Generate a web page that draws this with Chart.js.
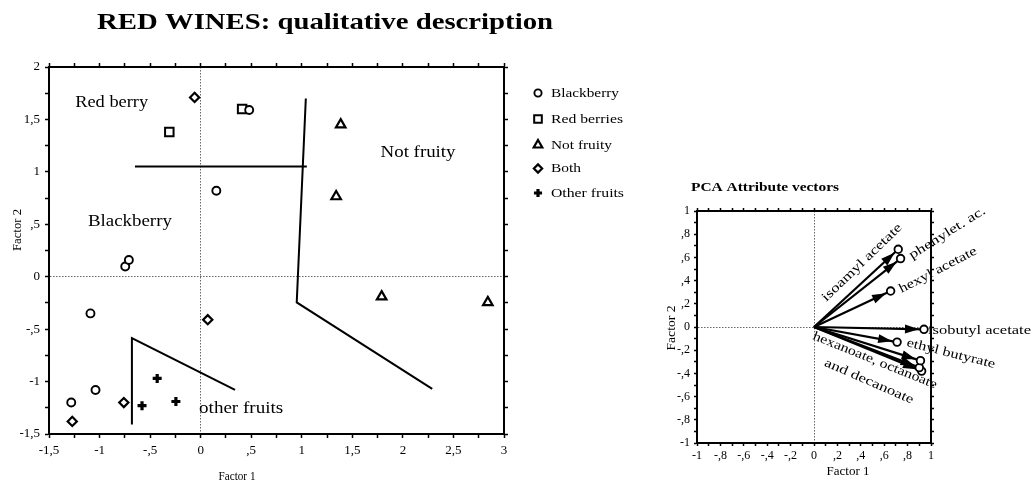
<!DOCTYPE html>
<html><head><meta charset="utf-8">
<script src="https://cdn.jsdelivr.net/npm/chart.js@4.4.1/dist/chart.umd.min.js"></script>
<style>
html,body{margin:0;padding:0;background:#fff;}
#wrap{position:relative;width:1033px;height:484px;overflow:hidden;}
canvas{position:absolute;left:0;top:0;}
</style></head><body>
<div id="wrap"><canvas id="c1" width="1033" height="484"></canvas><canvas id="c2" width="1033" height="484"></canvas></div>
<script>
// ---------- DATA: main chart ----------
const mainXTicks = [-1.5,-1,-0.5,0,0.5,1,1.5,2,2.5,3];
const mainXTickLabels = ['-1,5','-1','-,5','0',',5','1','1,5','2','2,5','3'];
const mainYTicks = [-1.5,-1,-0.5,0,0.5,1,1.5,2];
const mainYTickLabels = ['-1,5','-1','-,5','0',',5','1','1,5','2'];

const seriesNames = ['Blackberry','Red berries','Not fruity','Both','Other fruits'];
const blackberryX = [0.48, 0.155, -0.746, -0.71, -1.09, -1.04, -1.28];
const blackberryY = [1.59, 0.82, 0.098, 0.16, -0.35, -1.08, -1.20];
const redBerriesX = [-0.31, 0.41];
const redBerriesY = [1.38, 1.60];
const notFruityX = [1.385, 1.34, 1.79, 2.84];
const notFruityY = [1.45, 0.765, -0.19, -0.245];
const bothX = [-0.06, 0.07, -0.76, -1.27];
const bothY = [1.71, -0.41, -1.20, -1.38];
const otherFruitsX = [-0.58, -0.43, -0.245];
const otherFruitsY = [-1.23, -0.97, -1.19];

// boundary lines
const redBerryBoundX = [-0.65, 1.05];
const redBerryBoundY = [1.05, 1.05];
const notFruityBoundX = [1.04, 0.95, 2.29];
const notFruityBoundY = [1.70, -0.245, -1.07];
const otherFruitsBoundX = [-0.68, -0.68, 0.34];
const otherFruitsBoundY = [-1.41, -0.585, -1.08];

// region labels (data coordinates)
const regionNames = ['Red berry','Blackberry','Not fruity','other fruits'];
const regionX = [-0.88, -0.70, 2.15, 0.40];
const regionY = [1.66, 0.52, 1.18, -1.26];

// ---------- DATA: PCA chart ----------
const pcaTicks = [-1,-0.8,-0.6,-0.4,-0.2,0,0.2,0.4,0.6,0.8,1];
const pcaTickLabels = ['-1','-,8','-,6','-,4','-,2','0',',2',',4',',6',',8','1'];
const vectorNames = ['isoamyl acetate','phenylethyl acetate','hexyl acetate','isobutyl acetate','ethyl butyrate','ethyl hexanoate','ethyl octanoate','ethyl decanoate'];
const vectorX = [0.72, 0.74, 0.655, 0.94, 0.71, 0.91, 0.90, 0.92];
const vectorY = [0.67, 0.59, 0.31, -0.02, -0.13, -0.29, -0.35, -0.38];
const vectorLabels = ['isoamyl acetate','phenylet. ac.','hexyl acetate','isobutyl acetate','ethyl butyrate','hexanoate, octanoate','and decanoate'];
const vectorLabelX = [0.411, 1.14, 1.06, 0.974, 1.17, 0.52, 0.47];
const vectorLabelY = [0.555, 0.81, 0.49, -0.03, -0.23, -0.29, -0.47];
const vectorLabelAngle = [-44, -32, -27.5, 0, 14, 22, 23.5];

// ---------- helpers ----------
const SERIF = '"Liberation Serif","Times New Roman",serif';
function zip(xs, ys){ return xs.map((x,i)=>({x:x,y:ys[i]})); }
function withMinor(majors){
  const out = majors.slice();
  for (let i=0;i<majors.length-1;i++) out.push((majors[i]+majors[i+1])/2);
  return out.sort((a,b)=>a-b);
}
function labelFor(majors, labels){
  return function(v){
    for (let i=0;i<majors.length;i++) if (Math.abs(majors[i]-v)<1e-9) return labels[i];
    return '';
  };
}
function setTicks(majors){ return function(scale){ scale.ticks = withMinor(majors).map(v=>({value:v})); }; }
function fixW(w){ return function(s){ s.width = w; }; }
function fixH(h){ return function(s){ s.height = h; }; }
function zeroGrid(ctx){ return (ctx.tick && Math.abs(ctx.tick.value)<1e-9) ? '#666' : 'rgba(0,0,0,0)'; }
function drawText(ctx, text, x, y, font, width, align, baseline, angle){
  ctx.save();
  ctx.font = font;
  const w = ctx.measureText(text).width;
  const s = width ? width / w : 1;
  ctx.translate(x, y);
  if (angle) ctx.rotate(angle*Math.PI/180);
  ctx.scale(s, 1);
  ctx.fillStyle = '#000';
  ctx.textAlign = align || 'center';
  ctx.textBaseline = baseline || 'middle';
  ctx.fillText(text, 0, 0);
  ctx.restore();
}

// ---------- main chart ----------
const pointStyles = [
  {pointStyle:'circle', pointRadius:4, pointBorderWidth:1.9},
  {pointStyle:'rect', pointRadius:6, pointBorderWidth:2},
  {pointStyle:'triangle', pointRadius:5.5, pointBorderWidth:2.2},
  {pointStyle:'rectRot', pointRadius:4.6, pointBorderWidth:2.2},
  {pointStyle:'cross', pointRadius:4.5, pointBorderWidth:3.2}
];
const seriesData = [zip(blackberryX,blackberryY), zip(redBerriesX,redBerriesY), zip(notFruityX,notFruityY), zip(bothX,bothY), zip(otherFruitsX,otherFruitsY)];

const mainDatasets = seriesNames.map((n,i)=>Object.assign({
  label:n, data:seriesData[i], showLine:false,
  backgroundColor:'#fff', borderColor:'#000',
  pointBackgroundColor:'#fff', pointBorderColor:'#000', legendItem:true
}, pointStyles[i]));
[[redBerryBoundX,redBerryBoundY],[notFruityBoundX,notFruityBoundY],[otherFruitsBoundX,otherFruitsBoundY]].forEach(b=>{
  mainDatasets.push({label:'boundary', data:zip(b[0],b[1]), showLine:true, borderColor:'#000', borderWidth:2, pointRadius:0, fill:false, tension:0});
});

const mainAnnot = {
  id:'mainAnnot',
  afterDraw(chart){
    const ctx = chart.ctx, xs = chart.scales.x, ys = chart.scales.y;
    // title
    drawText(ctx, 'RED WINES: qualitative description', 97, 29, 'bold 24px '+SERIF, 456, 'left', 'alphabetic');
    // region labels
    const regionW = [73, 84, 75, 84];
    regionNames.forEach((t,i)=>drawText(ctx, t, xs.getPixelForValue(regionX[i]), ys.getPixelForValue(regionY[i]), '16px '+SERIF, regionW[i], 'center', 'middle'));
    // axis titles
    drawText(ctx, 'Factor 1', 237, 477, '13px '+SERIF, 37, 'center', 'middle');
    drawText(ctx, 'Factor 2', 18, 230, '13px '+SERIF, 42, 'center', 'middle', -90);
    // legend
    const rowsY = [93, 119, 145, 168.5, 193];
    const textW = [68, 72, 61, 30, 73];
    const items = chart.data.datasets.filter(d=>d.legendItem);
    items.forEach((d,i)=>{
      ctx.save();
      ctx.fillStyle = '#fff'; ctx.strokeStyle = '#000';
      ctx.lineWidth = d.pointBorderWidth;
      Chart.helpers.drawPoint(ctx, {pointStyle:d.pointStyle, radius:d.pointRadius*0.9, rotation:0, borderWidth:d.pointBorderWidth}, 538, rowsY[i]);
      ctx.restore();
      drawText(ctx, d.label, 551, rowsY[i]+0.5, '13px '+SERIF, textW[i], 'left', 'middle');
    });
  }
};

new Chart(document.getElementById('c1'), {
  type:'scatter',
  data:{datasets:mainDatasets},
  plugins:[mainAnnot],
  options:{
    responsive:false, animation:false, events:[],
    layout:{padding:{left:0, right:519, top:57, bottom:10}},
    plugins:{legend:{display:false}, tooltip:{enabled:false}, title:{display:false}},
    scales:{
      x:{type:'linear', position:'bottom', min:-1.5, max:3,
        afterBuildTicks:setTicks(mainXTicks), afterFit:fixH(40),
        ticks:{callback:labelFor(mainXTicks,mainXTickLabels), autoSkip:false, maxRotation:0, padding:5, color:'#000', font:{family:SERIF, size:13}},
        grid:{color:zeroGrid, lineWidth:1, tickColor:'#000', tickLength:4, tickWidth:1.5, drawOnChartArea:true},
        border:{display:true, color:'#000', width:2, dash:[1.5,1.5]}},
      y:{type:'linear', position:'left', min:-1.5, max:2,
        afterBuildTicks:setTicks(mainYTicks), afterFit:fixW(49),
        ticks:{callback:labelFor(mainYTicks,mainYTickLabels), autoSkip:false, padding:5, color:'#000', font:{family:SERIF, size:13}},
        grid:{color:zeroGrid, lineWidth:1, tickColor:'#000', tickLength:4, tickWidth:1.5, drawOnChartArea:true},
        border:{display:true, color:'#000', width:2, dash:[1.5,1.5]}},
      xTop:{type:'linear', position:'top', min:-1.5, max:3,
        afterBuildTicks:setTicks(mainXTicks), afterFit:fixH(10),
        ticks:{display:false},
        grid:{drawOnChartArea:false, tickColor:'#000', tickLength:4, tickWidth:1.5},
        border:{display:true, color:'#000', width:2}},
      yRight:{type:'linear', position:'right', min:-1.5, max:2,
        afterBuildTicks:setTicks(mainYTicks), afterFit:fixW(10),
        ticks:{display:false},
        grid:{drawOnChartArea:false, tickColor:'#000', tickLength:4, tickWidth:1.5},
        border:{display:true, color:'#000', width:2}}
    }
  }
});

// ---------- PCA chart ----------
const vecDatasets = vectorNames.map((n,i)=>({
  label:n, isVector:true,
  data:[{x:0,y:0},{x:vectorX[i],y:vectorY[i]}],
  showLine:true, borderColor:'#000', borderWidth:2.2,
  pointRadius:[0,3.8], pointStyle:'circle', pointBackgroundColor:'#fff', pointBorderColor:'#000', pointBorderWidth:1.8,
  tension:0, clip:false
}));

const arrowPlugin = {
  id:'arrows',
  beforeDatasetsDraw(chart){
    const ctx = chart.ctx;
    chart.data.datasets.forEach((ds,i)=>{
      if (!ds.isVector) return;
      const pts = chart.getDatasetMeta(i).data;
      const a = pts[0], b = pts[1];
      const dx = b.x-a.x, dy = b.y-a.y, L = Math.hypot(dx,dy);
      const ux = dx/L, uy = dy/L;
      const tx = b.x-ux*5, ty = b.y-uy*5;
      const bx = tx-ux*14, by = ty-uy*14;
      ctx.save(); ctx.fillStyle='#000'; ctx.beginPath();
      ctx.moveTo(tx,ty); ctx.lineTo(bx-uy*4.5, by+ux*4.5); ctx.lineTo(bx+uy*4.5, by-ux*4.5); ctx.closePath(); ctx.fill(); ctx.restore();
    });
  }
};
const pcaAnnot = {
  id:'pcaAnnot',
  afterDraw(chart){
    const ctx = chart.ctx, xs = chart.scales.x, ys = chart.scales.y;
    drawText(ctx, 'PCA Attribute vectors', 691, 191, 'bold 12px '+SERIF, 148, 'left', 'alphabetic');
    drawText(ctx, 'Factor 1', 848, 472, '12px '+SERIF, 43, 'center', 'middle');
    drawText(ctx, 'Factor 2', 672, 328, '12px '+SERIF, 45, 'center', 'middle', -90);
    const lw = [106, 88, 86, 103, 91, 133, 96];
    vectorLabels.forEach((t,i)=>{
      const align = i===3 ? 'left' : 'center';
      drawText(ctx, t, xs.getPixelForValue(vectorLabelX[i]), ys.getPixelForValue(vectorLabelY[i]), '13px '+SERIF, lw[i], align, 'middle', vectorLabelAngle[i]);
    });
  }
};

new Chart(document.getElementById('c2'), {
  type:'scatter',
  data:{datasets:vecDatasets},
  plugins:[arrowPlugin, pcaAnnot],
  options:{
    responsive:false, animation:false, events:[],
    layout:{padding:{left:667, right:96, top:205, bottom:11}},
    plugins:{legend:{display:false}, tooltip:{enabled:false}, title:{display:false}},
    scales:{
      x:{type:'linear', position:'bottom', min:-1, max:1,
        afterBuildTicks:setTicks(pcaTicks), afterFit:fixH(30),
        ticks:{callback:labelFor(pcaTicks,pcaTickLabels), autoSkip:false, maxRotation:0, padding:3, color:'#000', font:{family:SERIF, size:12}},
        grid:{color:zeroGrid, lineWidth:1, tickColor:'#000', tickLength:3, tickWidth:1.5, drawOnChartArea:true},
        border:{display:true, color:'#000', width:2, dash:[1.5,1.5]}},
      y:{type:'linear', position:'left', min:-1, max:1,
        afterBuildTicks:setTicks(pcaTicks), afterFit:fixW(30),
        ticks:{callback:labelFor(pcaTicks,pcaTickLabels), autoSkip:false, padding:4, color:'#000', font:{family:SERIF, size:12}},
        grid:{color:zeroGrid, lineWidth:1, tickColor:'#000', tickLength:3, tickWidth:1.5, drawOnChartArea:true},
        border:{display:true, color:'#000', width:2, dash:[1.5,1.5]}},
      xTop:{type:'linear', position:'top', min:-1, max:1,
        afterBuildTicks:setTicks(pcaTicks), afterFit:fixH(6),
        ticks:{display:false},
        grid:{drawOnChartArea:false, tickColor:'#000', tickLength:3, tickWidth:1.5},
        border:{display:true, color:'#000', width:2}},
      yRight:{type:'linear', position:'right', min:-1, max:1,
        afterBuildTicks:setTicks(pcaTicks), afterFit:fixW(6),
        ticks:{display:false},
        grid:{drawOnChartArea:false, tickColor:'#000', tickLength:3, tickWidth:1.5},
        border:{display:true, color:'#000', width:2}}
    }
  }
});
</script></body></html>
